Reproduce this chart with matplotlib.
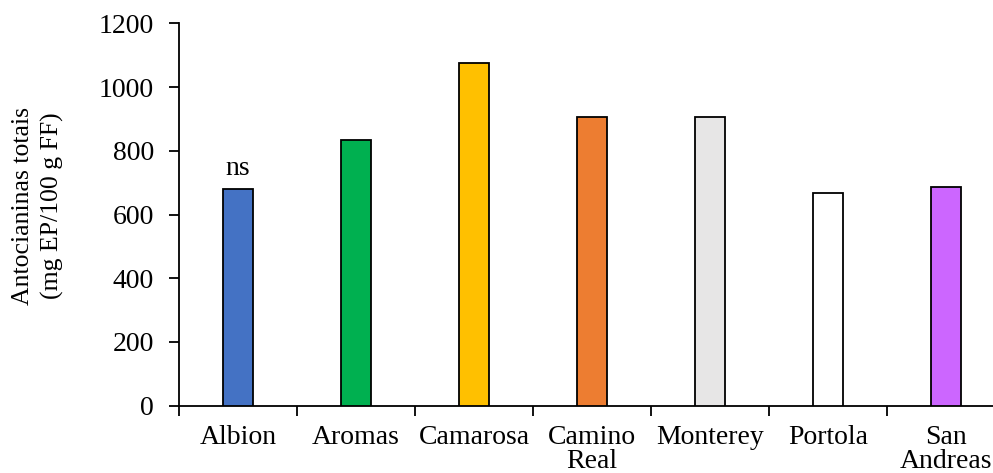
import matplotlib
matplotlib.use('Agg')
import matplotlib.pyplot as plt
import numpy as np

cultivars = ['Albion', 'Aromas', 'Camarosa', 'Camino\nReal', 'Monterey', 'Portola', 'San\nAndreas']
antocianinas = [680, 834, 1075, 906, 906, 667, 686]
cores = ['#4472C4', '#00B050', '#FFC000', '#ED7D31', '#E7E6E6', '#FFFFFF', '#CC66FF']

plt.rcParams['font.family'] = ['Liberation Serif', 'DejaVu Serif']

fig = plt.figure(figsize=(9.93, 4.73), dpi=100)
ax = fig.add_axes([0.1803, 0.1423, 0.832, 0.8084])

x = np.arange(len(cultivars))
ax.bar(x, antocianinas, width=0.255, color=cores, edgecolor='black', linewidth=1.3, zorder=3)
ax.text(x[0], antocianinas[0] + 25, 'ns', ha='center', va='bottom', fontsize=20)

ax.set_xlim(-0.5, len(cultivars) - 0.5)
ax.set_ylim(0, 1200)
ax.set_yticks(range(0, 1201, 200))
ax.set_xticks(np.arange(-0.5, len(cultivars), 1))
ax.set_xticklabels([])
ax.set_xticks(x, minor=True)
ax.set_xticklabels(cultivars, minor=True, fontsize=20, linespacing=0.95)
ax.tick_params(axis='x', which='minor', length=0, pad=14)
ax.tick_params(axis='x', which='major', length=7, width=1.3, direction='out')
ax.tick_params(axis='y', length=7, width=1.3, labelsize=20, pad=11)

for s in ['top', 'right']:
    ax.spines[s].set_visible(False)
for s in ['left', 'bottom']:
    ax.spines[s].set_linewidth(1.3)

fig.text(38 / 993, 1 - 206 / 473, 'Antocianinas totais\n(mg EP/100 g FF)', rotation=90,
         ha='center', va='center', fontsize=18.5, linespacing=1.35)

fig.savefig('out.png', dpi=100)
